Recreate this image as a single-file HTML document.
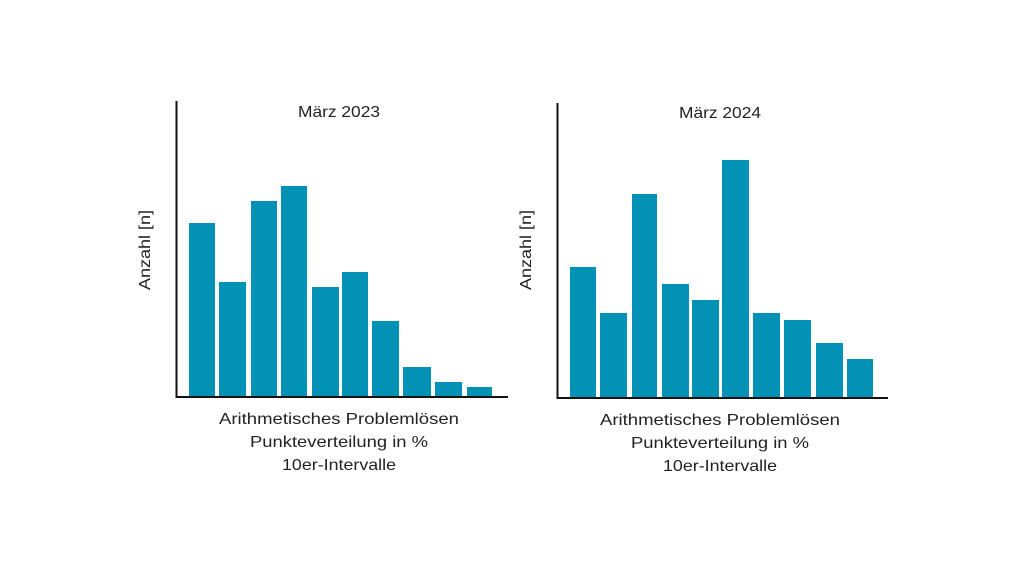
<!DOCTYPE html>
<html><head><meta charset="utf-8"><style>
body{margin:0;background:#fff;}
</style></head><body>
<svg width="1024" height="576" xmlns="http://www.w3.org/2000/svg" font-family="Liberation Sans, sans-serif" fill="#222">
<rect width="1024" height="576" fill="#fff"/>
<g fill="#0391b5">
<rect x="189" y="223" width="26" height="173"/>
<rect x="219" y="282" width="27" height="114"/>
<rect x="251" y="201" width="26" height="195"/>
<rect x="281" y="186" width="26" height="210"/>
<rect x="312" y="287" width="27" height="109"/>
<rect x="342" y="272" width="26" height="124"/>
<rect x="372" y="321" width="27" height="75"/>
<rect x="403" y="367" width="28" height="29"/>
<rect x="435" y="382" width="27" height="14"/>
<rect x="467" y="387" width="25" height="9"/>
<rect x="570" y="267" width="26" height="130"/>
<rect x="600" y="313" width="27" height="84"/>
<rect x="632" y="194" width="25" height="203"/>
<rect x="662" y="284" width="27" height="113"/>
<rect x="692" y="300" width="27" height="97"/>
<rect x="722" y="160" width="27" height="237"/>
<rect x="753" y="313" width="27" height="84"/>
<rect x="784" y="320" width="27" height="77"/>
<rect x="816" y="343" width="27" height="54"/>
<rect x="847" y="359" width="26" height="38"/>
</g>
<g stroke="#111" stroke-width="2" fill="none">
<path d="M176.5 101 V397 H508"/>
<path d="M557.5 103 V398 H888"/>
</g>
<g font-size="16" text-anchor="middle" lengthAdjust="spacingAndGlyphs">
<text x="339" y="117" textLength="82" lengthAdjust="spacingAndGlyphs">März 2023</text>
<text x="720" y="118" textLength="82" lengthAdjust="spacingAndGlyphs">März 2024</text>
<text x="339" y="424" textLength="240" lengthAdjust="spacingAndGlyphs">Arithmetisches Problemlösen</text>
<text x="339" y="447" textLength="178" lengthAdjust="spacingAndGlyphs">Punkteverteilung in %</text>
<text x="339" y="470" textLength="114" lengthAdjust="spacingAndGlyphs">10er-Intervalle</text>
<text x="720" y="425" textLength="240" lengthAdjust="spacingAndGlyphs">Arithmetisches Problemlösen</text>
<text x="720" y="448" textLength="178" lengthAdjust="spacingAndGlyphs">Punkteverteilung in %</text>
<text x="720" y="471" textLength="114" lengthAdjust="spacingAndGlyphs">10er-Intervalle</text>
<text transform="translate(150,250) rotate(-90)" textLength="80" lengthAdjust="spacingAndGlyphs">Anzahl [n]</text>
<text transform="translate(531,250) rotate(-90)" textLength="80" lengthAdjust="spacingAndGlyphs">Anzahl [n]</text>
</g>
</svg>
</body></html>
